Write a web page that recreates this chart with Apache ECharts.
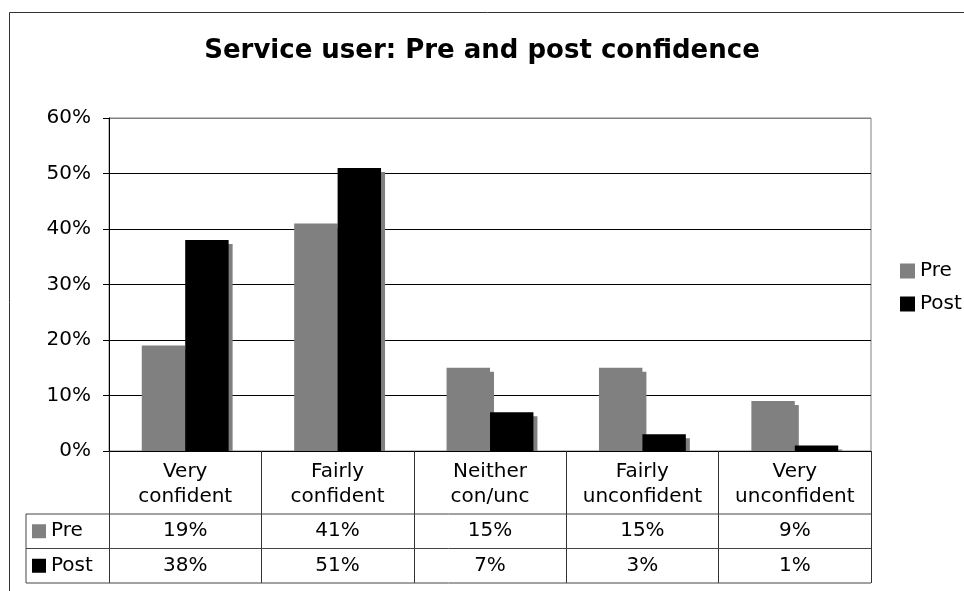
<!DOCTYPE html>
<html>
<head>
<meta charset="utf-8">
<script src="https://cdn.jsdelivr.net/npm/echarts@6/dist/echarts.min.js"></script>
<style>
  html, body { margin: 0; padding: 0; background: #fff; }
  #chart { width: 964px; height: 591px; }
</style>
</head>
<body>
<div id="chart"></div>
<script>
// Confidence categories and the share of service users in each, before and after
const categories = ['Very\nconfident', 'Fairly\nconfident', 'Neither\ncon/unc', 'Fairly\nunconfident', 'Very\nunconfident'];
const preValues = [0.19, 0.41, 0.15, 0.15, 0.09];
const postValues = [0.38, 0.51, 0.07, 0.03, 0.01];
const seriesNames = ['Pre', 'Post'];
const seriesColors = ['#808080', '#000000'];
const yTicks = [0, 0.1, 0.2, 0.3, 0.4, 0.5, 0.6];

const FONT = '"DejaVu Sans", Verdana, sans-serif';
const GRID = { left: 109, top: 118, right: 871, bottom: 451 };
const TABLE = { left: 26, row1: 514, row2: 548.5, bottom: 583 };
const BAR_FRAC = 0.285;      // bar width as a share of one category band
const SHADOW = 4;            // drop shadow offset in px

const pct = v => Math.round(v * 100) + '%';

const chart = echarts.init(document.getElementById('chart'), null, { renderer: 'canvas' });

// Drop shadow behind each bar, offset down/right and cut at the zero line
function shadowSeries(values, side) {
  return {
    type: 'custom',
    z: 1,
    silent: true,
    xAxisIndex: 0,
    yAxisIndex: 0,
    data: values.map((v, i) => [i, v]),
    renderItem: (params, api) => {
      const top = api.coord([api.value(0), api.value(1)]);
      const base = api.coord([api.value(0), 0]);
      const band = api.size([1, 0])[0];
      const w = band * BAR_FRAC;
      const x0 = side < 0 ? top[0] - w : top[0];
      const h = Math.max(0, base[1] - top[1] - SHADOW);
      return {
        type: 'rect',
        shape: { x: x0 + SHADOW, y: top[1] + SHADOW, width: w, height: h },
        style: { fill: '#808080' }
      };
    }
  };
}

// Row of values shown in the data table under the chart
function tableAxis(values, rowCenter) {
  return {
    type: 'category',
    data: categories,
    position: 'bottom',
    gridIndex: 0,
    axisLine: { show: false },
    axisTick: { show: false },
    axisLabel: {
      interval: 0,
      margin: rowCenter - GRID.bottom,
      verticalAlign: 'middle',
      color: '#000',
      fontFamily: FONT,
      fontSize: 20,
      formatter: (v, i) => pct(values[i])
    }
  };
}

const graphics = [
  // outer chart frame
  { type: 'rect', shape: { x: 9.5, y: 12.5, width: 980, height: 620 },
    style: { fill: null, stroke: '#333', lineWidth: 1 }, z: 0 },
  // data table rule lines
  { type: 'line', shape: { x1: TABLE.left, y1: TABLE.row1, x2: GRID.right, y2: TABLE.row1 },
    style: { stroke: '#444', lineWidth: 1 }, z: 10 },
  { type: 'line', shape: { x1: TABLE.left, y1: TABLE.row2, x2: GRID.right, y2: TABLE.row2 },
    style: { stroke: '#444', lineWidth: 1 }, z: 10 },
  { type: 'line', shape: { x1: TABLE.left, y1: TABLE.bottom, x2: GRID.right, y2: TABLE.bottom },
    style: { stroke: '#444', lineWidth: 1 }, z: 10 },
  { type: 'line', shape: { x1: TABLE.left, y1: TABLE.row1, x2: TABLE.left, y2: TABLE.bottom },
    style: { stroke: '#444', lineWidth: 1 }, z: 10 }
];

// legend keys inside the table rows
const rowCenters = [(TABLE.row1 + TABLE.row2) / 2, (TABLE.row2 + TABLE.bottom) / 2];
seriesNames.forEach((name, i) => {
  graphics.push({ type: 'rect', shape: { x: 32, y: rowCenters[i] - 7, width: 14, height: 14 },
    style: { fill: seriesColors[i] }, z: 10 });
  graphics.push({ type: 'text', x: 51, y: rowCenters[i],
    style: { text: name, fill: '#000', font: '20px ' + FONT, textVerticalAlign: 'middle', verticalAlign: 'middle' }, z: 10 });
});

const option = {
  animation: false,
  backgroundColor: '#fff',
  title: {
    text: 'Service user: Pre and post confidence',
    left: 'center',
    top: 33,
    padding: [5, 0, 5, 6],
    textStyle: { fontFamily: FONT, fontWeight: 'bold', fontSize: 26, color: '#000' }
  },
  legend: {
    data: seriesNames,
    orient: 'vertical',
    left: 895,
    top: 256,
    icon: 'rect',
    itemWidth: 15,
    itemHeight: 15,
    itemGap: 13,
    selectedMode: false,
    textStyle: { fontFamily: FONT, fontSize: 20, color: '#000', lineHeight: 20 }
  },
  grid: {
    left: GRID.left,
    top: GRID.top,
    width: GRID.right - GRID.left,
    height: GRID.bottom - GRID.top,
    show: true,
    borderColor: '#808080',
    borderWidth: 1,
    backgroundColor: 'transparent',
    containLabel: false
  },
  xAxis: [
    {
      type: 'category',
      data: categories,
      position: 'bottom',
      boundaryGap: true,
      axisLine: { show: true, lineStyle: { color: '#000', width: 1 } },
      axisTick: { show: true, interval: 0, length: TABLE.bottom - GRID.bottom, lineStyle: { color: '#333', width: 1 } },
      axisLabel: {
        interval: 0,
        margin: 8,
        color: '#000',
        fontFamily: FONT,
        fontSize: 20,
        lineHeight: 25,
        align: 'center'
      },
      splitLine: { show: false },
      z: 5
    },
    tableAxis(preValues, rowCenters[0]),
    tableAxis(postValues, rowCenters[1])
  ],
  yAxis: {
    type: 'value',
    min: yTicks[0],
    max: yTicks[yTicks.length - 1],
    interval: 0.1,
    axisLine: { show: true, lineStyle: { color: '#000', width: 1 } },
    axisTick: { show: true, length: 6, lineStyle: { color: '#000' } },
    axisLabel: {
      margin: 18,
      color: '#000',
      fontFamily: FONT,
      fontSize: 20,
      formatter: v => pct(v)
    },
    splitLine: {
      show: true,
      lineStyle: { color: ['#000', '#000', '#000', '#000', '#000', '#000', '#808080'], width: 1 }
    }
  },
  series: [
    shadowSeries(preValues, -1),
    shadowSeries(postValues, 1),
    {
      name: seriesNames[0],
      type: 'bar',
      data: preValues,
      barWidth: (BAR_FRAC * 100) + '%',
      barGap: '0%',
      itemStyle: { color: seriesColors[0] },
      z: 2
    },
    {
      name: seriesNames[1],
      type: 'bar',
      data: postValues,
      barWidth: (BAR_FRAC * 100) + '%',
      barGap: '0%',
      itemStyle: { color: seriesColors[1] },
      z: 3
    }
  ],
  graphic: graphics
};

chart.setOption(option);
</script>
</body>
</html>
